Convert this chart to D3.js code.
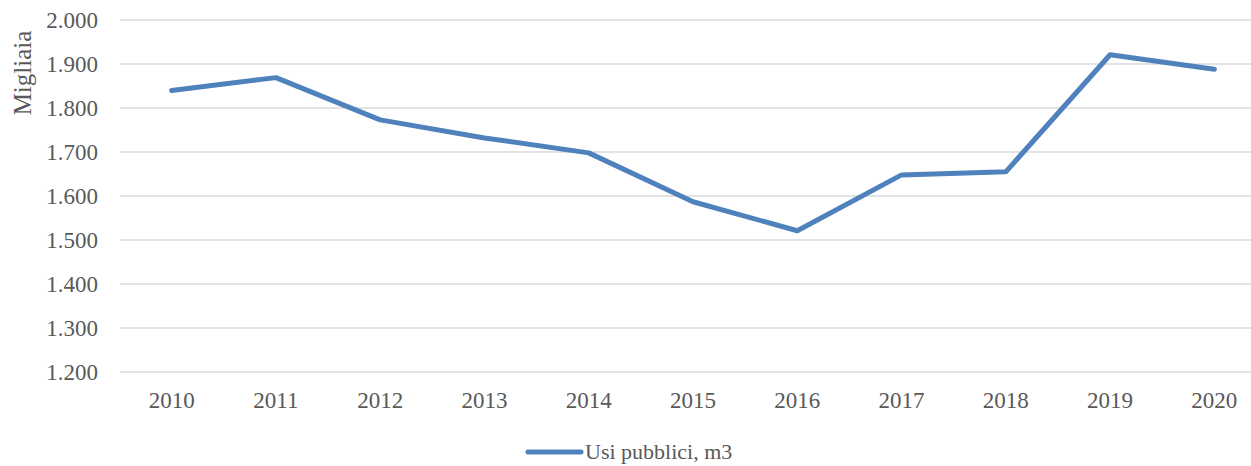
<!DOCTYPE html>
<html>
<head>
<meta charset="utf-8">
<script src="https://cdn.jsdelivr.net/npm/d3@7"></script>
<style>
  body { margin: 0; background: #fff; }
</style>
</head>
<body>
<svg id="chart" width="1251" height="466"></svg>
<script>
// data
var years = ["2010", "2011", "2012", "2013", "2014", "2015", "2016", "2017", "2018", "2019", "2020"];
var usiPubblici = [1840, 1869, 1773, 1732, 1698, 1587, 1521, 1648, 1655, 1921, 1888];
var yTicks = [1200, 1300, 1400, 1500, 1600, 1700, 1800, 1900, 2000];
var seriesName = "Usi pubblici, m3";
var yTitle = "Migliaia";

var font = "'Liberation Serif'";
var svg = d3.select("#chart");
var itFmt = d3.formatLocale({ decimal: ",", thousands: ".", grouping: [3], currency: ["", "€"] }).format(",");

var x = d3.scalePoint().domain(years).range([119.5, 1266.5]).padding(0.5);
var y = d3.scaleLinear().domain([1200, 2000]).range([372, 20]);

// gridlines
svg.append("g").selectAll("line")
	.data(yTicks)
	.enter().append("line")
	.attr("x1", 120).attr("x2", 1266)
	.attr("y1", function (d) { return y(d); })
	.attr("y2", function (d) { return y(d); })
	.attr("stroke", "#d9d9d9")
	.attr("stroke-width", 1.5);

function label(sel, size) {
	sel.attr("font-family", font)
		.attr("font-size", size + "px")
		.attr("fill", "#595959");
}

// y tick labels
svg.append("g").selectAll("text")
	.data(yTicks)
	.enter().append("text")
	.attr("x", 98)
	.attr("y", function (d) { return y(d); })
	.attr("dy", "0.35em")
	.attr("text-anchor", "end")
	.call(label, 23)
	.text(function (d) { return itFmt(d); });

// x tick labels
svg.append("g").selectAll("text")
	.data(years)
	.enter().append("text")
	.attr("x", function (d) { return x(d); })
	.attr("y", 408)
	.attr("text-anchor", "middle")
	.call(label, 23)
	.text(function (d) { return d; });

// y title
svg.append("text")
	.attr("transform", "translate(31,73) rotate(-90)")
	.attr("text-anchor", "middle")
	.call(label, 25)
	.text(yTitle);

// series line
var line = d3.line()
	.x(function (d, i) { return x(years[i]); })
	.y(function (d) { return y(d); });

svg.append("path")
	.datum(usiPubblici)
	.attr("d", line)
	.attr("fill", "none")
	.attr("stroke", "#4f81bd")
	.attr("stroke-width", 5)
	.attr("stroke-linecap", "round")
	.attr("stroke-linejoin", "round");

// legend
var lg = svg.append("g");
lg.append("line")
	.attr("x1", 528).attr("x2", 581)
	.attr("y1", 452).attr("y2", 452)
	.attr("stroke", "#4f81bd")
	.attr("stroke-width", 5)
	.attr("stroke-linecap", "round");
lg.append("text")
	.attr("x", 585)
	.attr("y", 459)
	.call(label, 22)
	.text(seriesName);
</script>
</body>
</html>
